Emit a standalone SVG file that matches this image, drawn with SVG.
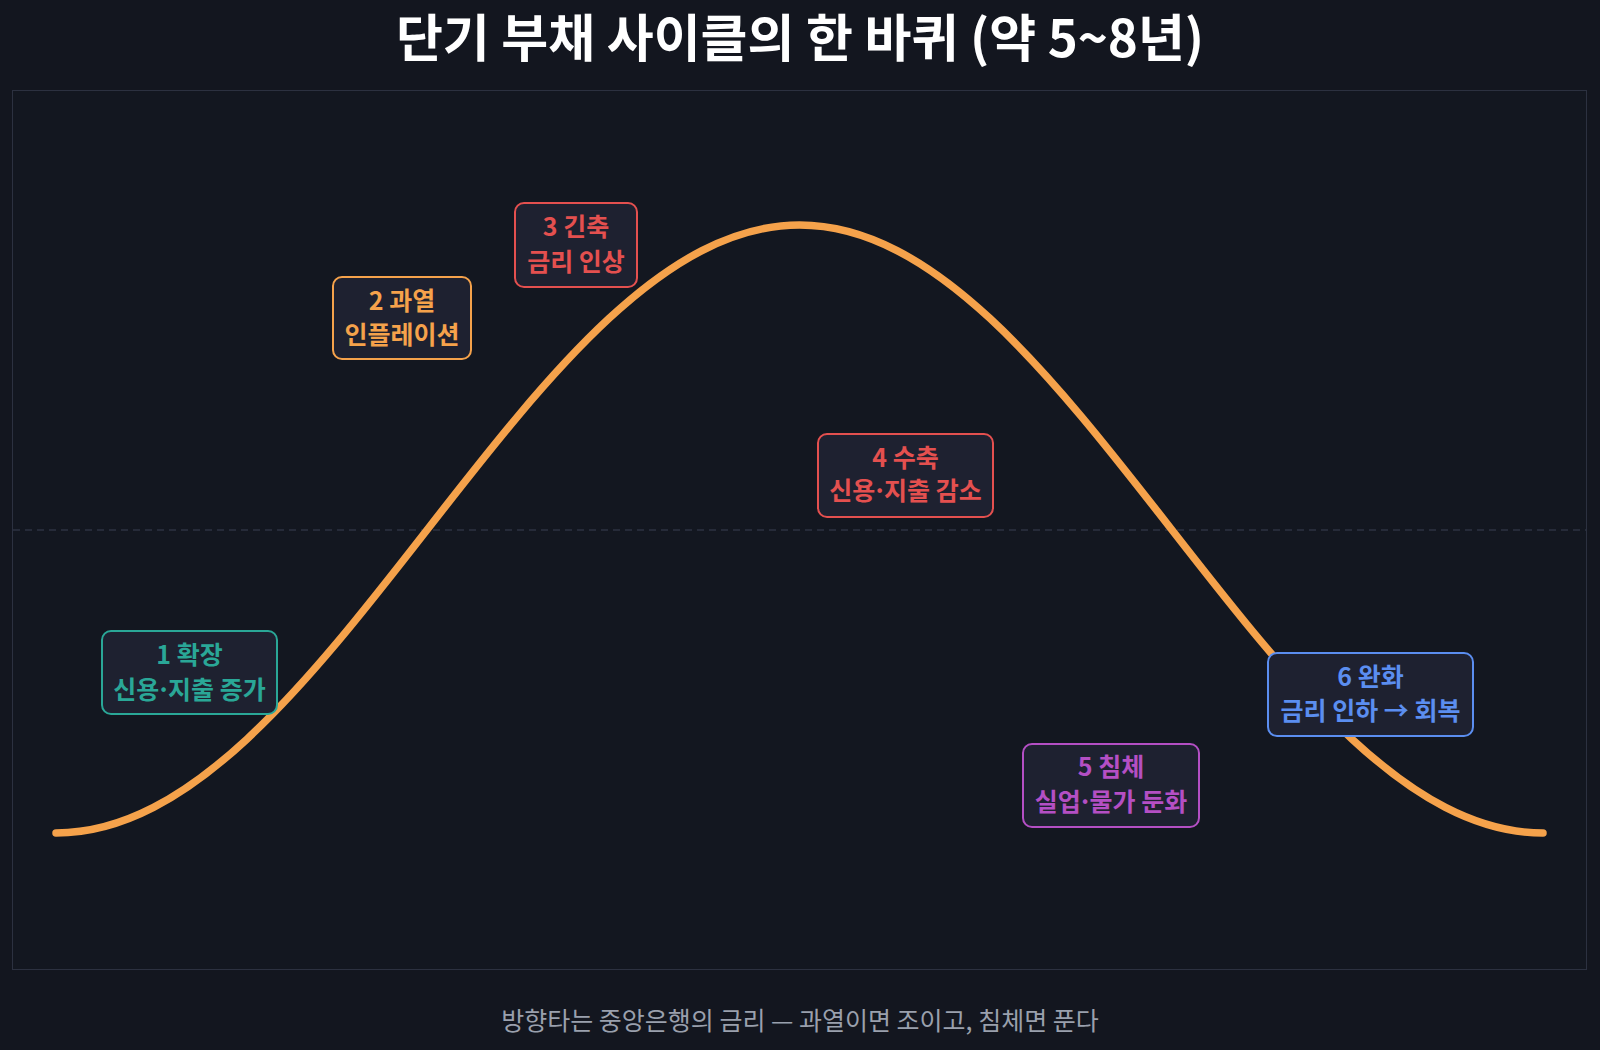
<svg xmlns="http://www.w3.org/2000/svg" width="1600" height="1050" viewBox="0 0 1600 1050">
  <style>
    .title { font-family: "Noto Sans CJK KR", "Noto Sans", sans-serif; font-weight: 700; font-size: 51px; fill: #ffffff; }
    .foot { font-family: "Noto Sans CJK KR", "Noto Sans", sans-serif; font-weight: 400; font-size: 25px; fill: #9aa0ad; }
    .lbl { font-family: "Noto Sans CJK KR", "Noto Sans", sans-serif; font-weight: 700; font-size: 25px; text-anchor: middle; }
    .box { fill: #1e2130; stroke-width: 2; }
  </style>
  <rect x="0" y="0" width="1600" height="1050" fill="#13161f"/>
  <text class="title" x="800" y="57" text-anchor="middle">단기 부채 사이클의 한 바퀴 (약 5~8년)</text>
  <rect x="12.5" y="90.5" width="1574" height="879" fill="#131720" stroke="#2c3140" stroke-width="1"/>
  <line x1="13" y1="530" x2="1586" y2="530" stroke="#2e3341" stroke-width="1.5" stroke-dasharray="7 5"/>
  <g id="connectors">
    <path d="M56,833 C189.9,833 306.5,684.7 427.75,529 C549,373.3 665.6,225 799.5,225 C933.4,225 1050,373.3 1171.25,529 C1292.5,684.7 1409.1,833 1543,833" fill="none" stroke="#f5a24b" stroke-width="7.5" stroke-linecap="round"/>
  </g>
  <g id="n1">
    <rect class="box" x="102" y="631" width="175" height="83" rx="9" stroke="#2aa797"/>
    <text class="lbl" x="189.5" y="664" fill="#2aa797">1 확장</text>
    <text class="lbl" x="189.5" y="699" fill="#2aa797">신용<tspan dx="-3">·</tspan><tspan dx="-3">지출 증가</tspan></text>
  </g>
  <g id="n2">
    <rect class="box" x="333" y="277" width="138" height="82" rx="9" stroke="#f5a24b"/>
    <text class="lbl" x="402" y="310" fill="#f5a24b">2 과열</text>
    <text class="lbl" x="402" y="344" fill="#f5a24b">인플레이션</text>
  </g>
  <g id="n3">
    <rect class="box" x="515" y="203" width="122" height="84" rx="9" stroke="#e4504f"/>
    <text class="lbl" x="576" y="236" fill="#e4504f">3 긴축</text>
    <text class="lbl" x="576" y="271" fill="#e4504f">금리 인상</text>
  </g>
  <g id="n4">
    <rect class="box" x="818" y="434" width="175" height="83" rx="9" stroke="#e4504f"/>
    <text class="lbl" x="905.5" y="467" fill="#e4504f">4 수축</text>
    <text class="lbl" x="905.5" y="500" fill="#e4504f">신용<tspan dx="-3">·</tspan><tspan dx="-3">지출 감소</tspan></text>
  </g>
  <g id="n5">
    <rect class="box" x="1023" y="744" width="176" height="83" rx="9" stroke="#b44fc4"/>
    <text class="lbl" x="1111" y="776" fill="#b44fc4">5 침체</text>
    <text class="lbl" x="1111" y="811" fill="#b44fc4">실업<tspan dx="-3">·</tspan><tspan dx="-3">물가 둔화</tspan></text>
  </g>
  <g id="n6">
    <rect class="box" x="1268" y="653" width="205" height="83" rx="9" stroke="#5b8ef0"/>
    <text class="lbl" x="1370.5" y="686" fill="#5b8ef0">6 완화</text>
    <text class="lbl" x="1370.5" y="720" fill="#5b8ef0">금리 인하 → 회복</text>
  </g>
  <text class="foot" x="800" y="1030" text-anchor="middle">방향타는 중앙은행의 금리 — 과열이면 조이고, 침체면 푼다</text>
</svg>
